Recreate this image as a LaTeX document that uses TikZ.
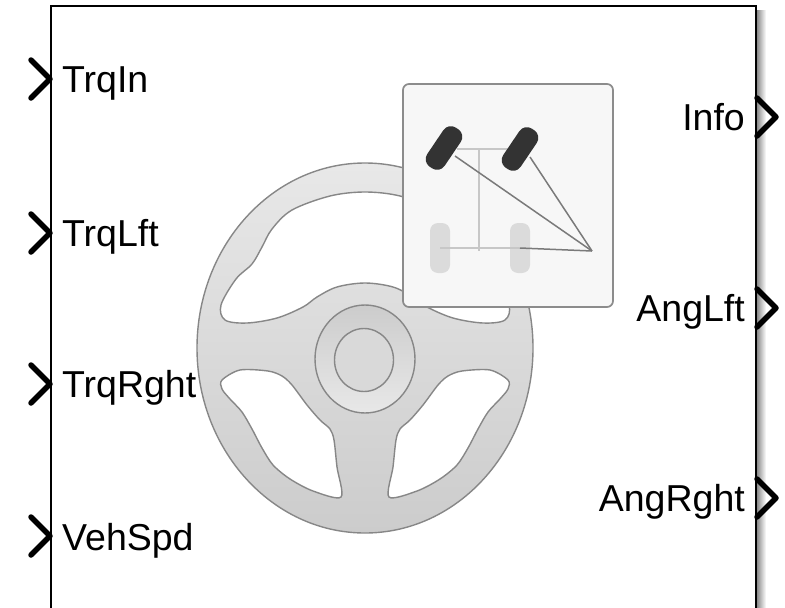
\documentclass[tikz,border=0pt]{standalone}
\usepackage{fontspec}
\setmainfont{Liberation Sans}
\begin{document}
\begin{tikzpicture}[x=1pt,y=-1pt,
  rimline/.style={draw=black!47, line width=1.4pt},
  hole/.style={rimline, fill=white},
  portchev/.style={line width=5.5pt, line cap=round, line join=round},
  portlabel/.style={inner sep=0pt, font=\fontsize{37.5}{41}\selectfont},
  frontwheel/.style={fill=black!80, rounded corners=9pt, minimum width=21pt,
                     minimum height=47pt, inner sep=0pt, rotate=-34},
  rearwheel/.style={fill=black!14, rounded corners=8pt, minimum width=20pt,
                    minimum height=50pt, inner sep=0pt},
  axle/.style={draw=black!22, line width=2pt},
  linkage/.style={draw=black!52, line width=1.5pt},
  chev/.pic={\draw[portchev] (-19,-19) -- (0,0) -- (-19,19);}
]
\useasboundingbox (0,0) rectangle (785,608);

% ---------- steering wheel ----------
\path[rimline, top color=black!9, bottom color=black!20]
  (365,348) ellipse [x radius=168, y radius=185];

% upper opening
\path[hole] plot[smooth cycle, tension=0.55] coordinates {
  (221,305) (236,279) (252,264) (262,247) (272,229) (292,210) (330,196)
  (365,192) (400,196) (438,210) (458,229) (468,247) (478,264) (494,279)
  (509,305) (505,320) (483,323) (453,318) (427,307) (413,297) (393,287)
  (365,283) (337,287) (317,297) (303,307) (277,318) (247,323) (225,320)};

% lower left opening
\path[hole] plot[smooth cycle, tension=0.5] coordinates {
  (222,380) (240,370) (268,371) (282,376) (292,385) (307,405) (320,420)
  (330,429) (334,440) (337,467) (341,497) (313,491) (290,479) (273,465)
  (262,448) (252,429) (242,412) (230,399) (222,389)};

% lower right opening
\path[hole] plot[smooth cycle, tension=0.5] coordinates {
  (508,380) (490,370) (462,371) (448,376) (438,385) (423,405) (410,420)
  (400,429) (396,440) (393,467) (389,497) (417,491) (440,479) (457,465)
  (468,448) (478,429) (488,412) (500,399) (508,389)};

% hub
\path[rimline, top color=black!20, bottom color=black!9]
  (365,359) ellipse [x radius=50, y radius=54];
\path[rimline, fill=black!15]
  (364,360) ellipse [x radius=29.5, y radius=31.5];

% ---------- steering geometry icon ----------
\path[draw=black!45, line width=1.7pt, fill=black!3, rounded corners=6pt]
  (403,84) rectangle (613,307);

\coordinate (pivot) at (592,251);
\node[rearwheel] (rl) at (440,248) {};
\node[rearwheel] (rr) at (520,248) {};
\draw[axle] (457,149) -- (508,149);
\draw[axle] (479,149) -- (479,251);
\draw[axle] (rl.center) -- (rr.center);
\draw[linkage] (rr.center) -- (pivot);
\node[frontwheel] (fl) at (444,148) {};
\node[frontwheel] (fr) at (520,149) {};
\draw[linkage] (455,156) -- (pivot);
\draw[linkage] (530,157) -- (pivot);

% ---------- block outline ----------
\shade[left color=black!45, right color=white] (757,10) rectangle (766,620);
\draw[line width=2pt] (51,6) rectangle (756,620);

% input ports
\pic at (50,79)  {chev};
\pic at (50,233) {chev};
\pic at (50,384) {chev};
\pic at (50,536) {chev};
% output ports
\pic at (776,117) {chev};
\pic at (776,308) {chev};
\pic at (776,498) {chev};

% port labels
\node[portlabel, anchor=base west] (trqin)  at (62,92)  {TrqIn};
\node[portlabel, anchor=base west] (trqlft) at (62,246) {TrqLft};
\node[portlabel, anchor=base west] (trqrgt) at (62,397) {TrqRght};
\node[portlabel, anchor=base west] (vehspd) at (62,550) {VehSpd};
\node[portlabel, anchor=base east] (info)   at (745,130) {Info};
\node[portlabel, anchor=base east] (anglft) at (745,321) {AngLft};
\node[portlabel, anchor=base east] (angrgt) at (745,511) {AngRght};
\end{tikzpicture}
\end{document}
